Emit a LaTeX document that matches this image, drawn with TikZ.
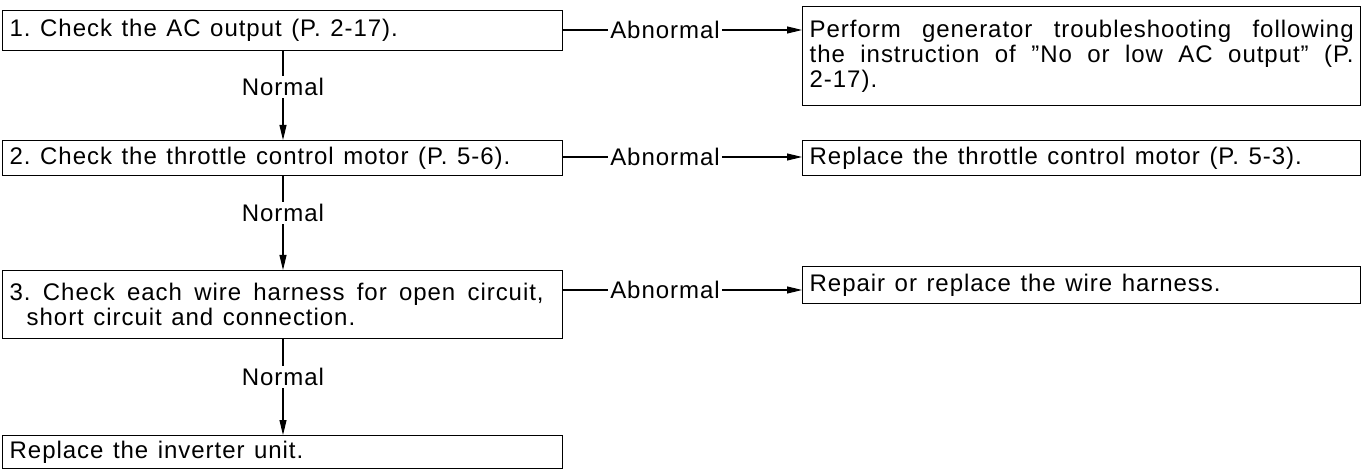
\documentclass[tikz,border=0pt]{standalone}
\usepackage{fontspec}
\setmainfont{Liberation Sans}[LetterSpace=4,WordSpace=1.25]
\usetikzlibrary{arrows.meta,positioning}
\frenchspacing
\begin{document}
\begin{tikzpicture}[x=1pt,y=-1pt,font=\fontsize{24}{25}\selectfont,
  stepbox/.style={draw,line width=1.4pt,anchor=north west,inner xsep=7pt,inner ysep=0pt,align=justify,text width=#1},
  lbl/.style={inner sep=2pt},
  conn/.style={line width=1.1pt},
  arr/.style={line width=1.1pt,-{Triangle[length=15pt,width=7pt]}}]
\useasboundingbox (0,0) rectangle (1368,470);
% left column: checks
\node[stepbox=546pt,minimum height=40pt] (b1) at (2,10) {1. Check the AC output (P. 2-17).};
\node[stepbox=546pt,minimum height=35pt] (b2) at (2,140) {2. Check the throttle control motor (P. 5-6).};
\node[stepbox=546pt,minimum height=68pt] (b3) at (2,270) {3. Check each wire harness for open circuit,\hspace*{12pt}\linebreak\hspace*{17pt}short circuit and connection.};
\node[stepbox=546pt,minimum height=33pt] (b4) at (2,435) {Replace the inverter unit.};
% right column: remedies
\node[stepbox=544pt,minimum height=99pt] (r1) at (802,6) {Perform generator troubleshooting following\linebreak the instruction of "No or low AC output" (P.\linebreak 2-17).};
\node[stepbox=544pt,minimum height=35pt] (r2) at (802,140) {Replace the throttle control motor (P. 5-3).};
\node[stepbox=544pt,minimum height=37pt] (r3) at (802,266) {Repair or replace the wire harness.};
% labels
\node[lbl] (n1) at (283,87) {Normal};
\node[lbl] (n2) at (283,213) {Normal};
\node[lbl] (n3) at (283,377) {Normal};
\node[lbl] (a1) at (665,30) {Abnormal};
\node[lbl] (a2) at (665,157) {Abnormal};
\node[lbl] (a3) at (665,290) {Abnormal};
% connectors
\draw[conn] (b1.south -| n1) -- (n1.north);
\draw[arr] (n1.south) -- (n1 |- b2.north);
\draw[conn] (b2.south -| n2) -- (n2.north);
\draw[arr] (n2.south) -- (n2 |- b3.north);
\draw[conn] (b3.south -| n3) -- (n3.north);
\draw[arr] (n3.south) -- (n3 |- b4.north);
\draw[conn] (b1.east |- a1) -- (a1.west);
\draw[arr] (a1.east) -- (a1 -| r1.west);
\draw[conn] (b2.east |- a2) -- (a2.west);
\draw[arr] (a2.east) -- (a2 -| r2.west);
\draw[conn] (b3.east |- a3) -- (a3.west);
\draw[arr] (a3.east) -- (a3 -| r3.west);
\end{tikzpicture}
\end{document}
